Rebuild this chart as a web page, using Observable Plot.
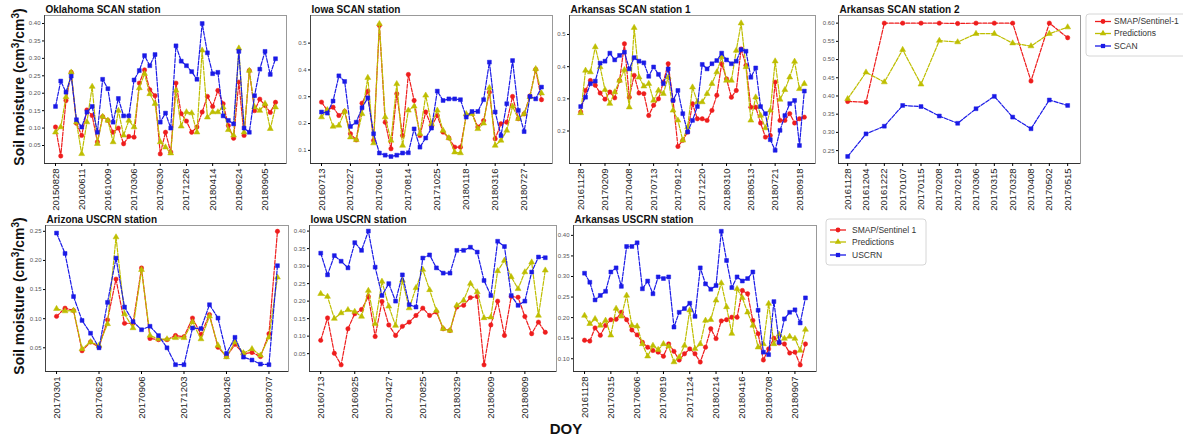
<!DOCTYPE html>
<html>
<head>
<meta charset="utf-8">
<script src="https://cdn.jsdelivr.net/npm/d3@7"></script>
<script src="https://cdn.jsdelivr.net/npm/@observablehq/plot@0.6"></script>
<style>
  body { margin: 0; background: #fff; }
  #fig { position: relative; width: 1183px; height: 440px; overflow: hidden;
         font-family: "Liberation Sans", Arial, sans-serif; background: #fff; }
  #fig svg { position: absolute; }
</style>
</head>
<body>
<div id="fig"></div>
<script>
// ---------- Oklahoma SCAN station ----------
const okTicks = ["20150828","20160611","20161009","20170306","20170630","20171226","20180414","20180624","20180905"];
const okSmap = [0.103,0.020,0.179,0.260,0.114,0.079,0.152,0.136,0.060,0.133,0.122,0.088,0.100,0.055,0.076,0.074,0.229,0.267,0.210,0.193,0.026,0.088,0.031,0.229,0.141,0.120,0.088,0.103,0.146,0.191,0.162,0.208,0.170,0.107,0.071,0.232,0.079,0.265,0.150,0.183,0.165,0.145,0.174];
const okPred = [0.088,0.103,0.189,0.260,0.117,0.026,0.117,0.219,0.055,0.133,0.122,0.060,0.150,0.079,0.122,0.103,0.215,0.256,0.198,0.170,0.060,0.045,0.028,0.208,0.105,0.146,0.143,0.088,0.323,0.131,0.146,0.146,0.160,0.095,0.079,0.329,0.088,0.265,0.160,0.150,0.170,0.098,0.160];
const okScan = [0.162,0.235,0.203,0.249,0.124,0.103,0.146,0.162,0.088,0.240,0.213,0.117,0.185,0.135,0.135,0.238,0.265,0.308,0.279,0.311,0.117,0.143,0.100,0.336,0.292,0.279,0.262,0.240,0.400,0.316,0.256,0.260,0.135,0.122,0.112,0.320,0.100,0.088,0.193,0.269,0.320,0.254,0.299];

// ---------- Iowa SCAN station ----------
const iaScanTicks = ["20160713","20170227","20170616","20170814","20171025","20180118","20180316","20180727"];
const iaSmap = [0.280,0.249,0.261,0.230,0.245,0.162,0.139,0.276,0.321,0.137,0.566,0.205,0.106,0.311,0.155,0.383,0.286,0.155,0.243,0.189,0.230,0.168,0.146,0.112,0.112,0.230,0.239,0.187,0.211,0.317,0.143,0.199,0.205,0.301,0.218,0.236,0.303,0.402,0.289];
const iaPred = [0.224,0.251,0.189,0.193,0.245,0.149,0.139,0.236,0.371,0.127,0.572,0.224,0.137,0.348,0.118,0.249,0.264,0.162,0.305,0.199,0.249,0.174,0.146,0.093,0.090,0.236,0.236,0.180,0.201,0.333,0.118,0.137,0.174,0.264,0.218,0.236,0.299,0.404,0.313];
const iaScan = [0.243,0.239,0.284,0.378,0.357,0.189,0.205,0.259,0.296,0.162,0.090,0.082,0.077,0.082,0.090,0.091,0.180,0.112,0.146,0.183,0.321,0.286,0.292,0.292,0.289,0.224,0.245,0.245,0.289,0.429,0.243,0.155,0.274,0.435,0.249,0.170,0.301,0.292,0.336];

// ---------- Arkansas SCAN station 1 ----------
const ar1Ticks = ["20161128","20170209","20170408","20170713","20170912","20171220","20180310","20180513","20180721","20180918"];
const ar1Smap = [0.259,0.326,0.357,0.342,0.318,0.299,0.321,0.303,0.357,0.471,0.305,0.373,0.318,0.316,0.248,0.280,0.300,0.352,0.409,0.295,0.152,0.171,0.197,0.285,0.238,0.238,0.233,0.264,0.311,0.409,0.362,0.305,0.326,0.455,0.404,0.274,0.274,0.225,0.181,0.186,0.352,0.233,0.233,0.254,0.225,0.238,0.243];
const ar1Pred = [0.256,0.388,0.383,0.461,0.399,0.328,0.285,0.321,0.357,0.390,0.274,0.521,0.367,0.339,0.347,0.295,0.326,0.316,0.367,0.264,0.233,0.171,0.212,0.336,0.290,0.290,0.316,0.347,0.383,0.430,0.357,0.357,0.450,0.535,0.399,0.233,0.305,0.248,0.209,0.264,0.417,0.298,0.328,0.367,0.416,0.331,0.347];
const ar1Scan = [0.276,0.305,0.347,0.355,0.411,0.417,0.442,0.421,0.435,0.445,0.393,0.428,0.417,0.412,0.370,0.399,0.376,0.347,0.393,0.295,0.326,0.254,0.197,0.233,0.276,0.407,0.393,0.409,0.419,0.442,0.421,0.409,0.417,0.453,0.448,0.367,0.396,0.276,0.254,0.173,0.140,0.202,0.248,0.285,0.295,0.155,0.324];

// ---------- Arkansas SCAN station 2 ----------
const ar2Ticks = ["20161128","20161204","20161222","20170107","20170115","20170208","20170219","20170306","20170315","20170328","20170408","20170502","20170515"];
const ar2Smap = [0.385,0.383,0.600,0.600,0.600,0.600,0.599,0.600,0.600,0.600,0.441,0.600,0.560];
const ar2Pred = [0.392,0.465,0.438,0.527,0.432,0.552,0.548,0.571,0.571,0.545,0.537,0.571,0.589];
const ar2Scan = [0.234,0.296,0.317,0.374,0.371,0.345,0.325,0.365,0.399,0.342,0.310,0.389,0.374];

// ---------- Arizona USCRN station ----------
const azTicks = ["20170301","20170629","20170906","20171203","20180426","20180707"];
const azSmap = [0.104,0.118,0.114,0.045,0.060,0.051,0.098,0.168,0.092,0.092,0.187,0.066,0.064,0.064,0.071,0.069,0.101,0.073,0.107,0.051,0.035,0.056,0.040,0.042,0.035,0.074,0.250];
const azPred = [0.117,0.113,0.114,0.048,0.060,0.054,0.091,0.240,0.108,0.084,0.184,0.071,0.065,0.065,0.067,0.067,0.094,0.065,0.104,0.054,0.034,0.060,0.041,0.048,0.037,0.068,0.171];
const azUscrn = [0.247,0.212,0.138,0.097,0.075,0.050,0.128,0.204,0.120,0.095,0.081,0.087,0.071,0.050,0.021,0.021,0.084,0.083,0.124,0.101,0.040,0.068,0.034,0.029,0.022,0.021,0.191];

// ---------- Iowa USCRN station ----------
const iaCrnTicks = ["20160713","20160925","20170427","20170825","20180329","20180609","20180809"];
const iaCrnSmap = [0.088,0.152,0.051,0.018,0.121,0.164,0.176,0.213,0.099,0.199,0.132,0.102,0.128,0.140,0.159,0.180,0.159,0.169,0.121,0.116,0.183,0.188,0.210,0.213,0.018,0.132,0.200,0.102,0.213,0.211,0.156,0.107,0.140,0.111];
const iaCrnPred = [0.221,0.213,0.150,0.166,0.175,0.170,0.156,0.230,0.135,0.256,0.185,0.130,0.259,0.180,0.238,0.290,0.232,0.173,0.121,0.116,0.188,0.202,0.250,0.226,0.152,0.154,0.286,0.316,0.269,0.235,0.283,0.311,0.159,0.288];
const iaCrnUscrn = [0.337,0.275,0.330,0.314,0.295,0.367,0.345,0.400,0.297,0.216,0.250,0.200,0.275,0.190,0.183,0.323,0.332,0.295,0.280,0.280,0.345,0.345,0.354,0.340,0.259,0.216,0.371,0.356,0.216,0.188,0.200,0.283,0.326,0.324];

// ---------- Arkansas USCRN station ----------
const arCrnTicks = ["20161128","20170315","20170606","20170819","20171124","20180214","20180416","20180708","20180907"];
const arCrnSmap = [0.145,0.143,0.175,0.157,0.181,0.195,0.196,0.213,0.195,0.170,0.158,0.140,0.128,0.120,0.116,0.106,0.136,0.118,0.097,0.112,0.124,0.112,0.092,0.128,0.173,0.149,0.192,0.195,0.201,0.201,0.266,0.258,0.193,0.161,0.097,0.124,0.150,0.138,0.136,0.114,0.116,0.085,0.136];
const arCrnPred = [0.205,0.185,0.197,0.181,0.193,0.157,0.222,0.203,0.254,0.181,0.179,0.136,0.106,0.132,0.122,0.136,0.130,0.092,0.104,0.132,0.218,0.124,0.136,0.193,0.195,0.242,0.284,0.226,0.161,0.270,0.248,0.213,0.181,0.128,0.136,0.234,0.136,0.159,0.149,0.154,0.149,0.120,0.171];
const arCrnUscrn = [0.308,0.286,0.243,0.254,0.264,0.311,0.321,0.276,0.373,0.373,0.382,0.270,0.289,0.258,0.299,0.295,0.299,0.177,0.213,0.222,0.235,0.203,0.321,0.282,0.269,0.278,0.410,0.339,0.273,0.299,0.289,0.295,0.311,0.218,0.116,0.110,0.239,0.140,0.197,0.213,0.219,0.187,0.248];

// Series names shown in the two legends
const topLegend = ["SMAP/Sentinel-1", "Predictions", "SCAN"];
const bottomLegend = ["SMAP/Sentinel 1", "Predictions", "USCRN"];

const COLORS = ["#ee1d1d", "#bebe00", "#1a1ae6"];
const SYMBOLS = ["circle", "triangle", "square"];
const FONT = "'Liberation Sans', Arial, sans-serif";
const fig = document.getElementById("fig");

// Each panel: title, frame box on the page [left, top, right, bottom], scales, series
const panels = [
  {title: "Oklahoma SCAN station", frame: [44, 15, 286, 163], xDomain: [-2.1, 44.1],
   yDomain: [-0.0016, 0.423], yTicks: [0.05,0.10,0.15,0.20,0.25,0.30,0.35,0.40], yFmt: ".2f",
   labels: okTicks, step: 5, series: [okSmap, okPred, okScan]},
  {title: "Iowa SCAN station", frame: [310, 15, 552, 163], xDomain: [-1.9, 39.9],
   yDomain: [0.051, 0.603], yTicks: [0.1,0.2,0.3,0.4,0.5], yFmt: ".1f",
   labels: iaScanTicks, step: 5, series: [iaSmap, iaPred, iaScan]},
  {title: "Arkansas SCAN station 1", frame: [569, 15, 815, 163], xDomain: [-2.3, 48.3],
   yDomain: [0.099, 0.559], yTicks: [0.2,0.3,0.4,0.5], yFmt: ".1f",
   labels: ar1Ticks, step: 5, series: [ar1Smap, ar1Pred, ar1Scan]},
  {title: "Arkansas SCAN station 2", frame: [838, 15, 1080, 163], xDomain: [-0.5, 12.7],
   yDomain: [0.2146, 0.621], yTicks: [0.25,0.30,0.35,0.40,0.45,0.50,0.55,0.60], yFmt: ".2f",
   labels: ar2Ticks, step: 1, series: [ar2Smap, ar2Pred, ar2Scan]},
  {title: "Arizona USCRN station", frame: [45, 225, 288, 371], xDomain: [-1.3, 27.3],
   yDomain: [0.0093, 0.260], yTicks: [0.05,0.10,0.15,0.20,0.25], yFmt: ".2f",
   labels: azTicks, step: 5, series: [azSmap, azPred, azUscrn]},
  {title: "Iowa USCRN station", frame: [309, 225, 556, 371], xDomain: [-1.65, 34.65],
   yDomain: [-0.001, 0.416], yTicks: [0.05,0.10,0.15,0.20,0.25,0.30,0.35,0.40], yFmt: ".2f",
   labels: iaCrnTicks, step: 5, series: [iaCrnSmap, iaCrnPred, iaCrnUscrn]},
  {title: "Arkansas USCRN station", frame: [573, 225, 816, 371], xDomain: [-2.1, 44.1],
   yDomain: [0.069, 0.424], yTicks: [0.10,0.15,0.20,0.25,0.30,0.35,0.40], yFmt: ".2f",
   labels: arCrnTicks, step: 5, series: [arCrnSmap, arCrnPred, arCrnUscrn]}
];

const ML = 36, MR = 4, MT = 4, MB = 62;

for (const p of panels) {
  const [L, T, R, B] = p.frame;
  const seriesMarks = p.series.flatMap((values, k) => [
    Plot.line(values, {x: (d, i) => i, y: d => d, stroke: COLORS[k], strokeWidth: 1.2, strokeDasharray: "4,1.5"}),
    Plot.dot(values, {x: (d, i) => i, y: d => d, symbol: SYMBOLS[k], r: k === 1 ? 2.2 : 2.2,
                      fill: COLORS[k], stroke: COLORS[k], strokeWidth: 0.5})
  ]);
  const chart = Plot.plot({
    width: R - L + ML + MR,
    height: B - T + MT + MB,
    marginLeft: ML, marginRight: MR, marginTop: MT, marginBottom: MB,
    style: {background: "transparent", fontFamily: FONT, overflow: "visible"},
    x: {domain: p.xDomain},
    y: {domain: p.yDomain},
    marks: [
      Plot.frame({stroke: "#999", strokeWidth: 1}),
      Plot.ruleY([p.yDomain[0]], {stroke: "#333", strokeWidth: 1}),
      Plot.ruleX([p.xDomain[0]], {stroke: "#444", strokeWidth: 1}),
      Plot.axisX({ticks: p.labels.map((_, k) => k * p.step), tickFormat: i => p.labels[Math.round(i / p.step)],
                  tickRotate: -90, fontSize: 9.5, tickSize: 3, tickPadding: 2, fill: "#222", label: null}),
      Plot.axisY({ticks: p.yTicks, tickFormat: d3.format(p.yFmt), tickSize: 2, tickPadding: 2,
                  fontSize: 6, fill: "#555", label: null}),
      ...seriesMarks
    ]
  });
  chart.style.left = (L - ML) + "px";
  chart.style.top = (T - MT) + "px";
  fig.append(chart);
}

// Overlay: panel titles, shared axis titles and the two legends
const svg = d3.select(fig).append("svg")
  .attr("width", 1183).attr("height", 440)
  .style("left", "0px").style("top", "0px")
  .style("font-family", FONT);

for (const p of panels) {
  svg.append("text").attr("x", p.frame[0] + 1.5).attr("y", p.frame[1] - 2.5)
    .attr("font-size", 10).attr("font-weight", "bold").attr("fill", "#111").text(p.title);
}

function yTitle(cy) {
  const t = svg.append("text").attr("transform", `translate(24,${cy}) rotate(-90)`)
    .attr("text-anchor", "middle").attr("font-size", 14).attr("font-weight", "bold").attr("fill", "#111");
  t.append("tspan").text("Soil moisture (cm");
  t.append("tspan").attr("dy", -5).attr("font-size", 10).text("3");
  t.append("tspan").attr("dy", 5).text("/cm");
  t.append("tspan").attr("dy", -5).attr("font-size", 10).text("3");
  t.append("tspan").attr("dy", 5).text(")");
}
yTitle(87);
yTitle(296);

svg.append("text").attr("x", 566).attr("y", 434).attr("text-anchor", "middle")
  .attr("font-size", 15).attr("font-weight", "bold").attr("fill", "#111").text("DOY");

function legend(names, x, y, w, h, rowY, lineX0, lineX1, textX) {
  svg.append("rect").attr("x", x).attr("y", y).attr("width", w).attr("height", h)
    .attr("rx", 3).attr("fill", "#fff").attr("stroke", "#ccc").attr("stroke-width", 0.8);
  names.forEach((name, k) => {
    const cy = rowY[k];
    svg.append("line").attr("x1", lineX0).attr("x2", lineX1).attr("y1", cy).attr("y2", cy)
      .attr("stroke", COLORS[k]).attr("stroke-width", 1.3);
    const sym = [d3.symbolCircle, d3.symbolTriangle, d3.symbolSquare][k];
    svg.append("path").attr("d", d3.symbol(sym, 18)())
      .attr("transform", `translate(${(lineX0 + lineX1) / 2},${cy})`).attr("fill", COLORS[k]);
    svg.append("text").attr("x", textX).attr("y", cy).attr("dy", "0.35em")
      .attr("font-size", 8.5).attr("fill", "#333").text(name);
  });
}
legend(topLegend, 1086, 14, 110, 42, [21.5, 33.5, 46], 1095, 1111, 1114);
legend(bottomLegend, 826, 219, 100, 46, [230, 242, 255], 830, 846, 852);
</script>
</body>
</html>
